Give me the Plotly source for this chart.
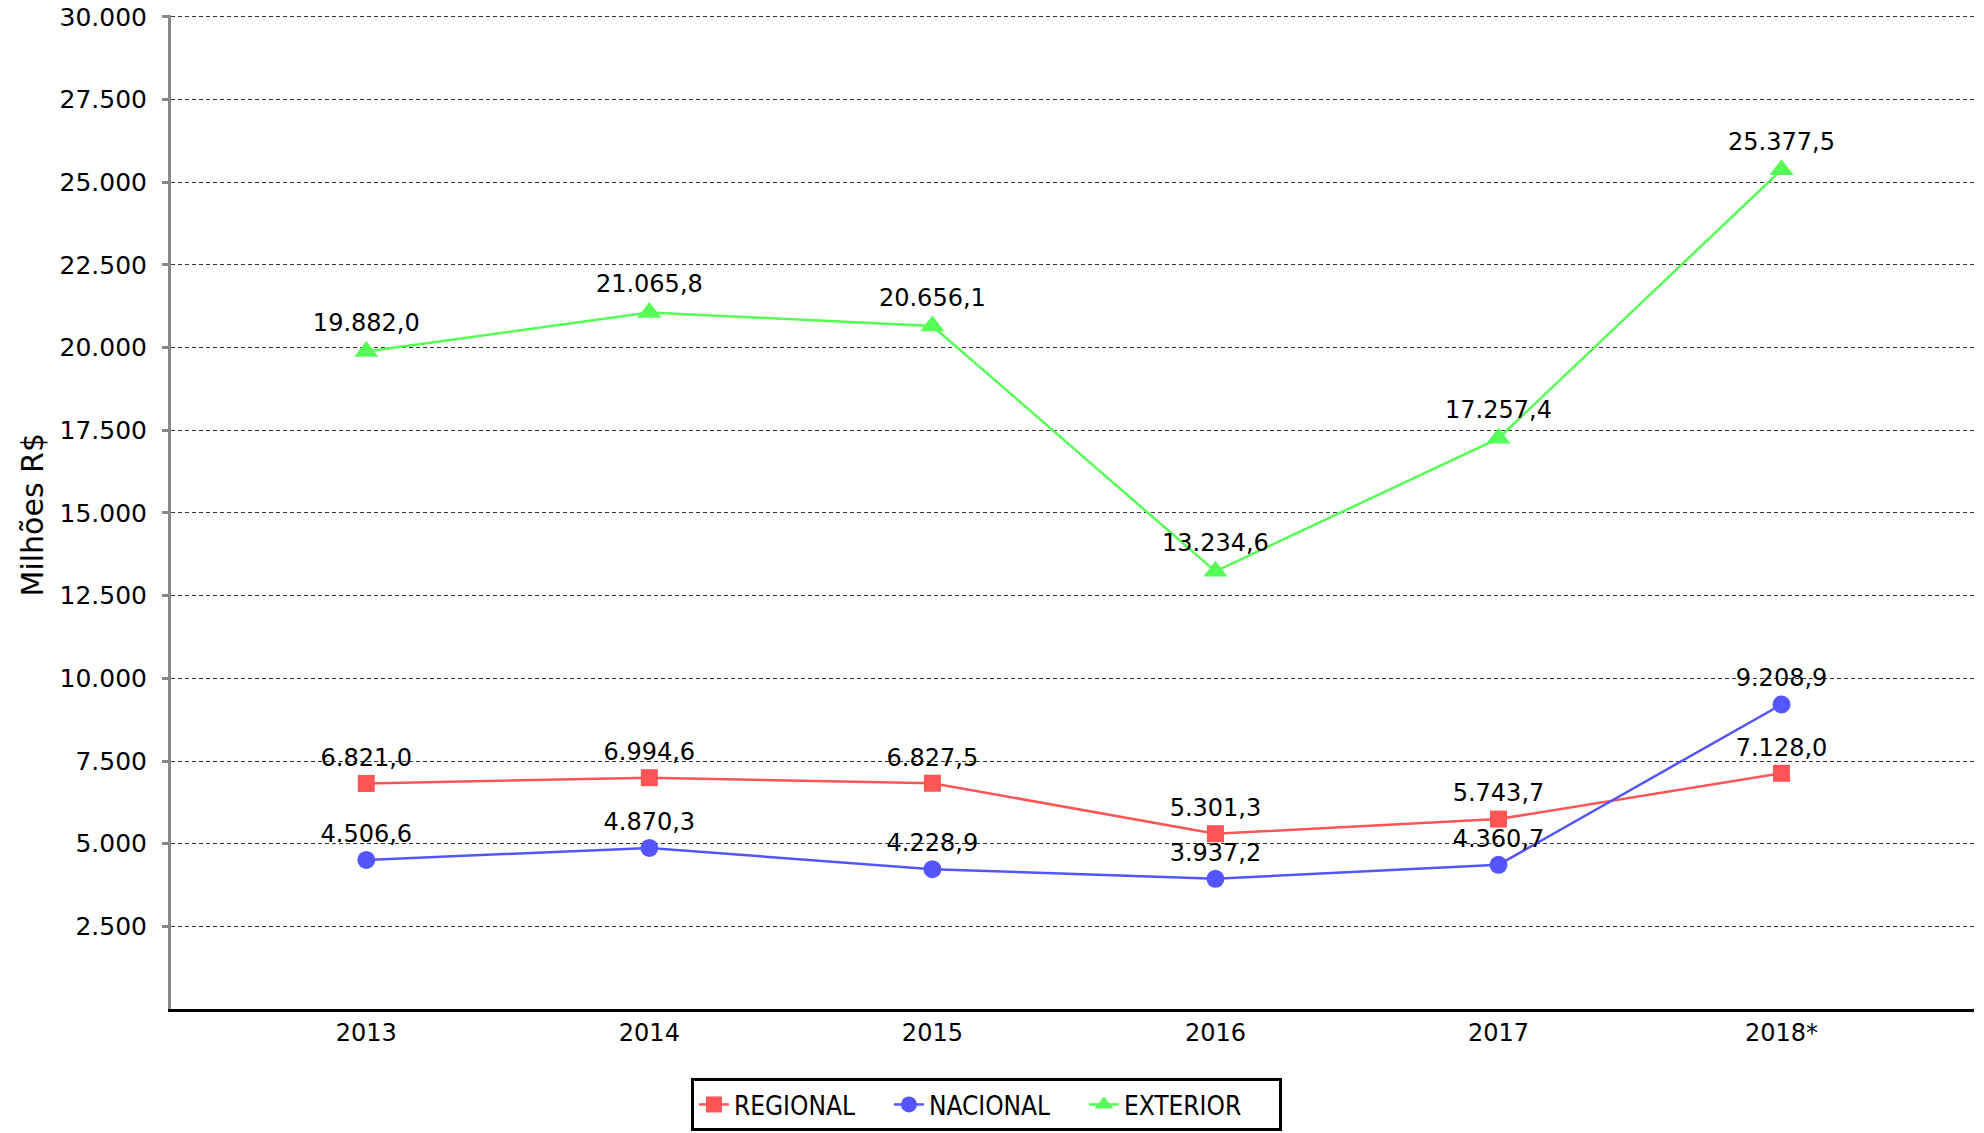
import plotly.graph_objects as go

years = ["2013", "2014", "2015", "2016", "2017", "2018*"]
regional = [6821.0, 6994.6, 6827.5, 5301.3, 5743.7, 7128.0]
nacional = [4506.6, 4870.3, 4228.9, 3937.2, 4360.7, 9208.9]
exterior = [19882.0, 21065.8, 20656.1, 13234.6, 17257.4, 25377.5]
y_ticks = [2500, 5000, 7500, 10000, 12500, 15000, 17500, 20000, 22500, 25000, 27500, 30000]

series = [
    ("REGIONAL", regional, "#FF5555", "square", 17),
    ("NACIONAL", nacional, "#5555FF", "circle", 18),
    ("EXTERIOR", exterior, "#55FF55", "triangle-up", 21),
]

fig = go.Figure()
for name, vals, color, sym, msize in series:
    fig.add_trace(go.Scatter(
        x=years, y=vals, name=name, mode="lines+markers+text",
        line=dict(color=color, width=2.5),
        marker=dict(color=color, symbol=sym, size=msize),
        text=vals, texttemplate="%{y:,.1f}", textposition="top center",
        textfont=dict(family="DejaVu Sans", size=24, color="#000000"),
        cliponaxis=False,
    ))

fig.add_annotation(
    text="Milhões R$", textangle=-90, xref="paper", yref="paper",
    x=-0.0771, y=0.4975, xanchor="center", yanchor="middle", showarrow=False,
    font=dict(family="DejaVu Sans", size=30, color="#000000"),
)

fig.update_layout(
    width=1984, height=1133,
    margin=dict(l=171, r=10, t=15, b=124, autoexpand=False),
    paper_bgcolor="white", plot_bgcolor="white",
    separators=",.",
    font=dict(family="DejaVu Sans", size=24, color="#000000"),
    showlegend=True,
    legend=dict(
        orientation="h", xref="container", yref="container",
        x=0.4972, xanchor="center", y=0.0485, yanchor="top",
        bordercolor="#000000", borderwidth=3, bgcolor="white",
        font=dict(family="DejaVu Sans Condensed, Liberation Sans Narrow, Liberation Sans", size=26),
        entrywidth=150, entrywidthmode="pixels",
        tracegroupgap=0,
    ),
    xaxis=dict(
        type="category", range=[-0.69, 5.68], automargin=False,
        showline=True, linecolor="#000000", linewidth=3,
        showgrid=False, ticks="", tickfont=dict(size=24),
    ),
    yaxis=dict(
        range=[0, 30060], tickvals=y_ticks, tickformat=",d", automargin=False,
        showline=True, linecolor="#888888", linewidth=3,
        ticks="outside", ticklen=6, tickcolor="#888888", tickwidth=3,
        ticklabelstandoff=10, ticklabeloverflow="allow",
        showgrid=True, gridcolor="#333333", griddash="4px,3px", gridwidth=1,
        zeroline=False, tickfont=dict(size=25),
    ),
)

fig.write_html(
    "out.html",
    config={"displayModeBar": False},
    post_script="document.body.style.margin='0';document.body.style.overflow='hidden';",
)
